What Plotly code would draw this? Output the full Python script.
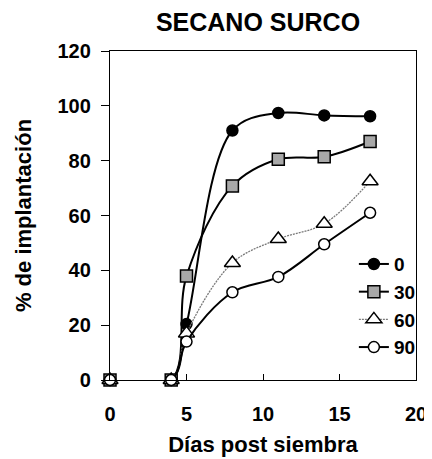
import plotly.graph_objects as go

dias = [0, 4, 5, 8, 11, 14, 17]
s0 = [0, 0, 20.4, 91, 97.4, 96.5, 96.2]
s30 = [0, 0, 37.9, 70.8, 80.5, 81.4, 87]
s60 = [0, 0, 17, 42.7, 51.4, 57, 72.5]
s90 = [0, 0, 14, 32, 37.6, 49.5, 61]
names = ["0", "30", "60", "90"]

FONT = "Liberation Sans, Arial, sans-serif"

# page body has an 8px margin, so the figure is sized to fit inside it
W, H = 424, 451

fig = go.Figure()
styles = [
    dict(values=s0, line=dict(color="black", width=2),
         marker=dict(symbol="circle", size=11, color="black", line=dict(color="black", width=1.5))),
    dict(values=s30, line=dict(color="black", width=2),
         marker=dict(symbol="square", size=12, color="#a8a8a8", line=dict(color="black", width=1.5))),
    dict(values=s60, line=dict(color="#7a7a7a", width=1.3, dash="2px,1px"),
         marker=dict(symbol="triangle-up", size=14, color="white", line=dict(color="black", width=1.5))),
    dict(values=s90, line=dict(color="black", width=2),
         marker=dict(symbol="circle", size=11, color="white", line=dict(color="black", width=1.5))),
]
for name, st in zip(names, styles):
    fig.add_trace(go.Scatter(
        x=dias, y=st["values"], name=name, mode="lines+markers",
        line=dict(shape="spline", smoothing=1, **st["line"]),
        marker=st["marker"], cliponaxis=False,
    ))

fig.update_layout(
    width=W, height=H,
    margin=dict(l=102, r=11, t=43, b=79),
    paper_bgcolor="white", plot_bgcolor="white",
    font=dict(family=FONT, size=20, color="black", weight="bold"),
    title=dict(text="SECANO SURCO", x=250 / W, xanchor="center",
               y=1 - 14 / H, yanchor="middle", automargin=False,
               font=dict(family=FONT, size=25, color="black", weight="bold")),
    showlegend=True,
    legend=dict(x=0.797, y=0.41, xanchor="left", yanchor="top",
                bgcolor="rgba(0,0,0,0)", borderwidth=0,
                font=dict(family=FONT, size=19, color="black", weight="bold"),
                tracegroupgap=0, itemwidth=30),
)
fig.update_xaxes(
    range=[0, 20], tickvals=[0, 5, 10, 15, 20], ticks="inside", ticklen=6,
    tickwidth=1.2, tickcolor="black", showline=True, linecolor="black",
    linewidth=1.3, mirror=True, showgrid=False, zeroline=False,
    ticklabelstandoff=16, automargin=False,
    title=dict(text="Días post siembra", standoff=12,
               font=dict(family=FONT, size=22, color="black", weight="bold")),
)
fig.update_yaxes(
    range=[0, 120], tickvals=[0, 20, 40, 60, 80, 100, 120], ticks="outside",
    ticklen=8, tickwidth=1.2, tickcolor="black", showline=True,
    linecolor="black", linewidth=1.3, mirror=True, showgrid=False,
    zeroline=False, ticklabelstandoff=6, automargin=False,
    title=dict(text="% de implantación", standoff=19,
               font=dict(family=FONT, size=22, color="black", weight="bold")),
)
fig.write_html("out.html")
